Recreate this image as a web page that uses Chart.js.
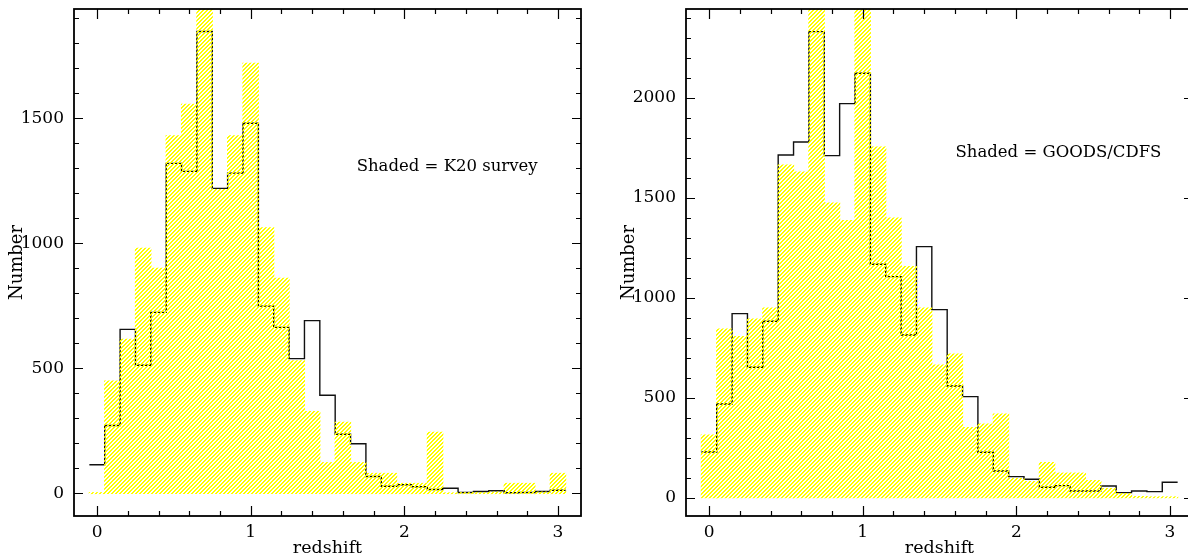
<!DOCTYPE html>
<html lang="en">
<head>
    <meta charset="UTF-8">
    <title>Redshift distributions</title>
    <style>
        html, body {
            margin: 0;
            padding: 0;
            background: #ffffff;
            overflow: hidden;
            width: 1188px;
            height: 557px;
        }
        canvas {
            position: absolute;
            top: 0;
        }
        #leftChart { left: 0; }
        #rightChart { left: 594px; }
    </style>
</head>
<body>
    <canvas id="leftChart" width="594" height="557"></canvas>
    <canvas id="rightChart" width="600" height="557"></canvas>

    <script src="https://cdn.jsdelivr.net/npm/chart.js"></script>
    <script>
        // bin centres (redshift), bins are 0.1 wide
        const binCenters = [0.0, 0.1, 0.2, 0.3, 0.4, 0.5, 0.6, 0.7, 0.8, 0.9,
                            1.0, 1.1, 1.2, 1.3, 1.4, 1.5, 1.6, 1.7, 1.8, 1.9,
                            2.0, 2.1, 2.2, 2.3, 2.4, 2.5, 2.6, 2.7, 2.8, 2.9, 3.0];
        const binWidth = 0.1;

        // left panel
        const leftOutline = [115, 272, 656, 513, 724, 1320, 1288, 1847, 1220, 1281,
                             1480, 749, 664, 539, 691, 393, 237, 199, 68, 29,
                             35, 27, 16, 21, 4, 8, 11, 3, 4, 8, 13];
        const k20Shaded = [3, 449, 616, 980, 900, 1430, 1556, 1960, 1215, 1430,
                           1720, 1062, 860, 530, 327, 123, 284, 123, 80, 80,
                           40, 40, 244, 2, 3, 3, 5, 40, 40, 5, 80];
        const leftYTicks = [0, 500, 1000, 1500];

        // right panel
        const rightOutline = [228, 468, 920, 652, 882, 1713, 1778, 2330, 1710, 1970,
                              2122, 1167, 1105, 813, 1255, 940, 558, 505, 227, 133,
                              105, 92, 52, 60, 33, 33, 58, 25, 33, 30, 77];
        const goodsShaded = [313, 842, 805, 892, 947, 1663, 1627, 2460, 1472, 1385,
                             2460, 1752, 1397, 1155, 947, 663, 718, 350, 368, 418,
                             95, 80, 175, 122, 122, 85, 45, 20, 5, 3, 3];
        const rightYTicks = [0, 500, 1000, 1500, 2000];

        const xTicks = [0, 1, 2, 3];

        const FONT = "'DejaVu Serif', 'Liberation Serif', serif";

        // crisp /// hatching, pixel by pixel
        function makeHatch(ctx) {
            const n = 4;
            const c = document.createElement('canvas');
            c.width = n;
            c.height = n;
            const g = c.getContext('2d');
            g.fillStyle = '#ffff00';
            for (let px = 0; px < n; px++) {
                for (let py = 0; py < n; py++) {
                    const d = (px + py) % n;
                    if (d === 0 || d === 1) g.fillRect(px, py, 1, 1);
                }
            }
            return ctx.createPattern(c, 'repeat');
        }

        // step outline points: left edge of every bin + right edge of last bin
        function stepPoints(values) {
            const pts = binCenters.map((c, i) => ({ x: c - binWidth / 2, y: values[i] }));
            pts.push({ x: binCenters[binCenters.length - 1] + binWidth / 2, y: values[values.length - 1] });
            return pts;
        }

        function drawTicks(ctx, scale, isX, a, step, major, lenMajor, lenMinor) {
            const k0 = Math.ceil(scale.min / step - 1e-6);
            const k1 = Math.floor(scale.max / step + 1e-6);
            for (let k = k0; k <= k1; k++) {
                const v = k * step;
                const isMajor = Math.abs(v / major - Math.round(v / major)) < 1e-6;
                const len = isMajor ? lenMajor : lenMinor;
                const p = Math.round(scale.getPixelForValue(v)) + 0.5;
                if (isX) {
                    ctx.moveTo(p, a.bottom); ctx.lineTo(p, a.bottom - len);
                    ctx.moveTo(p, a.top); ctx.lineTo(p, a.top + len);
                } else {
                    ctx.moveTo(a.left, p); ctx.lineTo(a.left + len, p);
                    ctx.moveTo(a.right, p); ctx.lineTo(a.right - len, p);
                }
            }
        }

        const framePlugin = {
            id: 'frame',
            afterDraw(chart, args, opts) {
                const { ctx, chartArea: a, scales } = chart;
                ctx.save();
                ctx.strokeStyle = '#000';
                ctx.lineWidth = 1.2;
                ctx.beginPath();
                drawTicks(ctx, scales.x, true, a, 0.2, 1, 10, 5);
                drawTicks(ctx, scales.y, false, a, 100, 500, 9, 5);
                ctx.stroke();

                ctx.lineWidth = 1.8;
                ctx.strokeRect(a.left, a.top, a.right - a.left, a.bottom - a.top);

                ctx.fillStyle = '#000';
                ctx.font = '16.5px ' + FONT;
                ctx.textAlign = 'left';
                ctx.textBaseline = 'middle';
                ctx.fillText(opts.label, scales.x.getPixelForValue(opts.lx), scales.y.getPixelForValue(opts.ly));
                ctx.restore();
            }
        };

        function noPad(s) {
            s.paddingTop = 0;
            s.paddingBottom = 0;
            s.paddingLeft = 0;
            s.paddingRight = 0;
        }

        function makeChart(id, outline, shaded, yMin, yMax, yTicks, yAxisWidth, titlePad, rightPad, label, lx, ly) {
            const ctx = document.getElementById(id).getContext('2d');
            return new Chart(ctx, {
                data: {
                    datasets: [{
                        type: 'bar',
                        label: 'shaded',
                        data: binCenters.map((c, i) => ({ x: c, y: shaded[i] })),
                        backgroundColor: makeHatch(ctx),
                        borderWidth: 0,
                        inflateAmount: 0.6,
                        barPercentage: 1.0,
                        categoryPercentage: 1.0,
                        order: 0
                    }, {
                        type: 'line',
                        label: 'outline',
                        data: stepPoints(outline),
                        stepped: true,
                        borderColor: '#111',
                        borderWidth: 1.4,
                        pointRadius: 0,
                        fill: false,
                        order: 1
                    }]
                },
                options: {
                    responsive: false,
                    animation: false,
                    devicePixelRatio: 1,
                    layout: { padding: { top: 9, right: rightPad, left: 0, bottom: 0 } },
                    plugins: {
                        legend: { display: false },
                        tooltip: { enabled: false },
                        frame: { label: label, lx: lx, ly: ly }
                    },
                    scales: {
                        x: {
                            type: 'linear',
                            min: -0.15,
                            max: 3.15,
                            offset: false,
                            grid: { display: false, drawTicks: false },
                            border: { display: false },
                            afterBuildTicks: s => { s.ticks = xTicks.map(v => ({ value: v })); },
                            afterFit: s => { s.height = 41; noPad(s); },
                            ticks: {
                                color: '#000',
                                padding: 6,
                                maxRotation: 0,
                                font: { family: FONT, size: 17 },
                                callback: v => String(v)
                            },
                            title: {
                                display: true,
                                text: 'redshift',
                                color: '#000',
                                font: { family: FONT, size: 17.5, lineHeight: 1 },
                                padding: { top: 0, bottom: 0 }
                            }
                        },
                        y: {
                            min: yMin,
                            max: yMax,
                            grid: { display: false, drawTicks: false },
                            border: { display: false },
                            afterBuildTicks: s => { s.ticks = yTicks.map(v => ({ value: v })); },
                            afterFit: s => { s.width = yAxisWidth; noPad(s); },
                            ticks: {
                                color: '#000',
                                padding: 10,
                                font: { family: FONT, size: 17 },
                                callback: v => String(v)
                            },
                            title: {
                                display: true,
                                text: 'Number',
                                color: '#000',
                                font: { family: FONT, size: 18, lineHeight: 1.2 },
                                padding: { top: titlePad, bottom: 0 }
                            }
                        }
                    }
                },
                plugins: [framePlugin]
            });
        }

        makeChart('leftChart', leftOutline, k20Shaded, -90, 1937, leftYTicks, 74, 7, 13,
                  'Shaded = K20 survey', 1.69, 1306);
        makeChart('rightChart', rightOutline, goodsShaded, -92, 2443, rightYTicks, 92, 25, 1,
                  'Shaded = GOODS/CDFS', 1.604, 1722);
    </script>
</body>
</html>
